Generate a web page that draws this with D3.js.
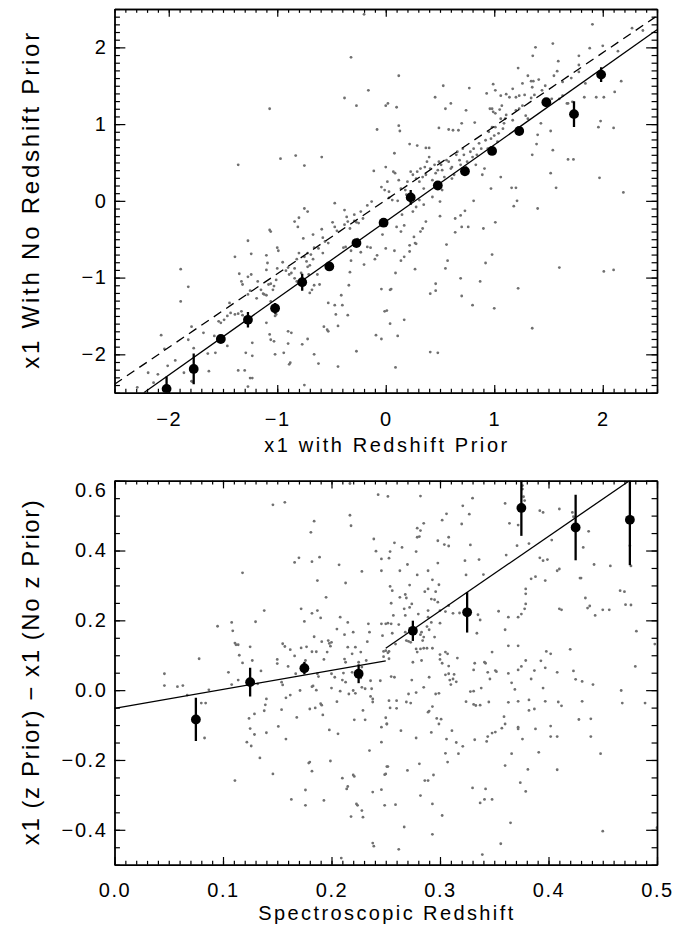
<!DOCTYPE html>
<html>
<head>
<meta charset="utf-8">
<script src="https://cdn.jsdelivr.net/npm/d3@7"></script>
<style>
body { margin:0; background:#fff; }
svg { display:block; font-family:"Liberation Sans", Arial, Helvetica, sans-serif; }
.axis path { stroke:#000; stroke-width:1.4; }
.axis line { stroke:#000; stroke-width:1.2; }
.axis text { font-size:20px; fill:#000; letter-spacing:1.6px; }
.title { font-size:20px; fill:#000; }
.ytitle { font-size:24px; fill:#000; }
</style>
</head>
<body>
<div class="chart"></div>
<script>
// ---- top panel: x1 with / without redshift prior ----
var topBinX   = [-2.02, -1.77, -1.52, -1.27, -1.02, -0.77, -0.52, -0.27, -0.02, 0.23, 0.48, 0.73, 0.98, 1.23, 1.48, 1.735, 1.985];
var topBinY   = [-2.45, -2.19, -1.80, -1.55, -1.40, -1.06, -0.855, -0.55, -0.285, 0.045, 0.20, 0.385, 0.65, 0.91, 1.285, 1.13, 1.645];
var topBinErr = [0.16, 0.20, 0.04, 0.10, 0.07, 0.11, 0.04, 0.04, 0.04, 0.097, 0.04, 0.04, 0.04, 0.04, 0.04, 0.167, 0.097];
var topFitLine  = [[-2.23, -2.5], [2.5, 2.23]];
var topOneToOne = [[-2.5, -2.39], [2.5, 2.41]];
var topDots = [
 [-0.20,2.43],[-0.32,1.87],[-0.16,1.44],[-0.38,1.34],[-0.27,1.24],[-1.07,1.20],[-0.08,0.93],
 [-0.83,0.59],[-0.59,0.57],[-0.97,0.55],[-0.75,0.46],[-1.36,0.47],[-0.11,0.39],[-0.04,0.18],[-0.01,0.14],
 [-0.75,-0.10],[-0.72,-0.14],[-0.47,-0.03],[-0.80,-0.22],[-0.84,-0.27],[-0.81,-0.34],[-0.76,-0.49],
 [-1.07,-0.38],[-1.06,-0.40],[-1.27,-0.52],[-1.24,-0.69],[-1.39,-0.73],[-1.00,-0.61],[-0.99,-0.65],[-1.10,-0.71],
 [-1.89,-0.89],[-1.82,-1.12],[-1.89,-1.31],[-2.07,-1.75],[-2.04,-1.93],[-1.79,-1.64],[-1.82,-1.81],[-1.77,-1.92],
 [-2.01,-2.15],[-1.94,-2.08],[-1.86,-2.24],[-1.79,-2.35],[-1.78,-2.36],[-1.68,-1.72],[-2.10,-2.26],[-2.14,-2.37],[-2.29,-2.43],[-2.19,-2.24],
 [-1.63,-2.22],[-1.57,-1.98],[-1.64,-1.99],[-1.58,-1.76],
 [-1.44,-1.33],[-1.54,-1.57],[-1.52,-1.59],[-1.49,-1.55],[-1.46,-1.50],[-1.43,-1.46],[-1.39,-1.48],[-1.36,-1.47],[-1.33,-1.44],[-1.32,-1.49],
 [-1.46,-1.89],[-1.29,-1.98],[-1.23,-1.85],[-1.23,-2.02],[-1.36,-2.21],[-1.30,-2.21],[-1.25,-2.31],[-1.23,-2.31],[-1.27,-2.42],
 [-1.33,-1.05],[-1.32,-1.09],[-1.35,-0.95],[-1.27,-1.22],[-1.25,-1.17],[-1.27,-0.99],[-1.24,-0.96],
 [-1.18,-1.05],[-1.19,-1.27],[-1.15,-1.16],[-1.13,-1.21],[-1.12,-1.22],[-1.10,-1.23],
 [-1.09,-0.81],[-1.10,-0.90],[-1.08,-1.09],[-1.06,-1.08],[-1.04,-1.16],[-1.01,-1.03],[-1.03,-1.11],
 [-1.06,-1.31],[-1.01,-1.48],[-1.02,-1.50],[-1.10,-1.59],[-1.07,-1.74],[-1.06,-1.81],[-1.03,-1.83],
 [-0.90,-1.70],[-0.87,-1.72],[-1.02,-2.00],[-0.94,-1.98],[-0.90,-1.86],[-0.89,-2.13],[-0.88,-2.11],
 [-0.77,-1.87],[-0.75,-2.40],[-0.72,-1.80],[-0.66,-2.00],[-0.62,-2.12],[-0.57,-1.64],[-0.54,-1.68],[-0.53,-1.70],
 [-0.53,-1.33],[-0.47,-1.36],[-0.46,-1.48],[-0.44,-1.63],[-0.44,-2.16],[-0.41,-1.23],[-0.40,-1.36],[-0.35,-1.49],
 [-0.34,-1.10],[-0.33,-0.93],[-0.27,-1.96],[-0.09,-1.75],[-0.04,-1.80],[-0.01,-1.44],[-0.04,-1.15],
 [-0.03,-0.44],[0.00,-0.62],[-0.10,-0.76],[-0.08,-0.71],[-0.20,-0.83],[-0.17,-0.60],[-0.14,-0.61],
 [-0.32,-0.65],[-0.32,-0.78],[-0.23,-0.67],[-0.39,-0.61],[-0.37,-0.60],[-0.29,-0.53],[-0.26,-0.50],
 [-0.38,-0.31],[-0.35,-0.27],[-0.33,-0.36],[-0.29,-0.18],[-0.23,-0.14],[-0.21,-0.23],[-0.17,-0.06],[-0.13,-0.01],
 [-0.29,-0.26],[-0.27,-0.28],[-0.25,-0.29],[-0.49,-0.28],[-0.47,-0.34],[-0.45,-0.39],[-0.38,-0.12],[-0.36,-0.21],
 [-0.59,-0.37],[-0.58,-0.48],[-0.56,-0.53],[-0.53,-0.55],[-0.62,-0.62],[-0.58,-0.68],
 [-0.67,-0.44],[-0.66,-0.61],[-0.72,-0.68],[-0.70,-0.84],[-0.69,-0.70],[-0.67,-0.76],
 [-0.75,-0.73],[-0.73,-0.79],[-0.72,-0.86],[-0.71,-0.96],[-0.78,-0.94],[-0.82,-0.76],[-0.80,-0.68],[-0.84,-0.88],
 [-0.90,-0.87],[-0.92,-0.91],[-0.89,-0.96],[-0.87,-0.94],[-0.84,-1.01],[-0.82,-1.05],
 [-0.68,-1.16],[-0.70,-1.20],[-0.66,-1.10],[-0.63,-0.96],[-0.61,-1.09],[-0.95,-0.80],[-1.00,-0.88],
 [1.905,2.30],[2.37,2.22],[2.27,2.25],[1.54,2.05],[1.38,2.00],[1.88,1.99],[2.00,2.02],[1.78,1.89],[2.14,1.95],[1.355,1.89],
 [1.59,1.82],[1.22,1.73],[1.31,1.63],[1.34,1.56],[1.36,1.56],[1.41,1.58],[1.55,1.63],[1.58,1.69],[1.63,1.55],[1.71,1.60],
 [1.78,1.77],[1.78,1.68],[1.84,1.53],[2.01,1.35],[2.17,1.56],[2.11,1.42],[1.94,1.35],[1.83,1.35],[1.72,1.29],[1.68,1.27],
 [1.63,1.37],[1.60,1.33],[1.53,1.33],[1.44,1.44],[1.47,1.50],[1.35,1.48],[1.37,1.38],[1.34,1.34],[1.26,1.53],[1.28,1.38],
 [1.20,1.35],[1.23,1.37],[1.17,1.46],[1.11,1.39],[1.14,1.35],[1.06,1.37],[1.07,1.24],[0.99,1.52],[1.01,1.44],[0.93,1.40],
 [0.98,1.20],[0.99,1.16],[1.01,1.14],[1.05,1.19],[1.11,1.12],[1.10,1.07],[1.17,1.05],[1.20,1.18],[1.23,1.20],[1.26,1.24],
 [1.29,1.11],[1.31,1.07],[1.43,1.01],[1.40,0.86],[1.39,0.74],[1.35,0.60],[1.54,0.66],[1.52,0.91],[1.52,0.36],[1.57,0.17],
 [1.68,0.54],[1.73,0.54],[1.67,1.27],[1.96,0.96],[1.98,1.04],[2.10,0.95],[1.97,0.30],[2.19,0.11],[2.01,-0.92],[2.10,-0.90],
 [1.60,-0.87],[1.35,-1.66],[1.40,-0.10],[1.18,-0.07],[1.21,0.00],[1.16,0.17],[1.20,0.17],[1.22,-1.14],[1.00,-1.40],[0.98,-0.70],
 [1.01,-0.28],[1.06,0.31],[0.97,0.16],[0.90,-0.36],[0.92,-0.81],[0.87,-1.05],[0.80,-1.36],[0.70,-1.24],[0.69,-1.01],[0.70,-0.34],
 [0.76,-0.34],[0.81,0.00],[0.73,-0.13],[0.69,-0.19],[0.64,-0.23],[0.64,-0.41],[0.55,-0.88],[0.56,-0.57],[0.57,-0.78],[0.50,-0.01],
 [0.50,-0.20],[0.46,-1.08],[0.46,-1.17],[0.48,-1.98],[0.41,-1.97],[0.41,-1.21],[0.37,-0.27],[0.34,-0.36],[0.32,-0.40],[0.27,-0.55],
 [0.28,-0.56],[0.26,-0.47],[0.22,-0.58],[0.22,-0.66],[0.27,-0.89],[0.17,-0.73],[0.14,-0.78],[0.09,-0.94],[0.08,-0.65],[0.05,-1.15],
 [0.04,-1.16],[0.17,-1.55],[0.04,-1.60],[0.11,-1.76],[0.09,-2.17],[0.01,-1.43],[0.14,-0.40],[0.17,-0.32],[0.15,-0.18],[0.10,-0.34],
 [0.00,0.44],[0.015,0.25],[0.03,0.12],[0.07,0.38],[0.086,0.36],[0.12,0.27],[0.14,0.16],[0.18,0.14],[0.20,0.25],[0.23,0.38],
 [0.25,0.34],[0.28,0.29],[0.29,0.38],[0.31,0.25],[0.32,0.42],[0.34,0.31],[0.35,0.16],[0.36,0.44],[0.37,0.34],[0.38,0.51],
 [0.40,0.57],[0.41,0.42],[0.43,0.27],[0.45,0.47],[0.46,0.36],[0.48,0.40],[0.49,0.51],[0.51,0.47],[0.52,0.40],[0.54,0.31],
 [0.56,0.53],[0.58,0.51],[0.60,0.42],[0.61,0.44],[0.63,0.34],[0.65,0.60],[0.66,0.64],[0.68,0.53],[0.69,0.47],[0.71,0.68],
 [0.72,0.60],[0.74,0.44],[0.75,0.51],[0.78,0.64],[0.80,0.57],[0.81,0.68],[0.83,0.47],[0.84,0.60],[0.86,0.75],[0.88,0.68],
 [0.89,0.34],[0.91,0.42],[0.92,0.79],[0.94,0.68],[0.95,0.90],[0.97,0.81],[0.98,0.96],[1.00,0.85],[1.01,0.96],[1.03,0.77],
 [1.04,0.88],[1.06,1.07],[1.08,0.94],[1.09,1.01],
 [0.12,1.63],[0.00,1.24],[0.02,1.27],[0.10,1.22],[0.12,0.98],[0.13,0.91],[0.22,0.74],[0.29,0.72],[0.37,0.69],[0.40,0.69],
 [0.455,1.35],[0.53,1.50],[0.55,1.20],[0.60,1.27],[0.49,0.95],[0.58,0.93],[0.62,0.92],[0.67,0.92],[0.70,1.01],[0.74,1.18],
 [0.77,1.47],[0.82,1.02],[0.96,1.20],[0.08,0.62],[0.03,0.04],[0.06,0.01],[0.11,0.00],[0.19,0.08],[0.35,-0.05],[0.31,0.01],
 [0.28,-0.08],[0.25,-0.14],[0.43,0.05],[0.48,0.16],[0.52,0.14],[0.61,0.29]
];

// ---- bottom panel: difference against spectroscopic redshift ----
var botBinX   = [0.075, 0.125, 0.175, 0.225, 0.275, 0.325, 0.375, 0.425, 0.475];
var botBinY   = [-0.084, 0.023, 0.063, 0.047, 0.170, 0.223, 0.522, 0.466, 0.488];
var botBinErr = [0.062, 0.041, 0.018, 0.027, 0.029, 0.058, 0.08, 0.094, 0.13];
var botFitLow  = [[0.0, -0.052], [0.25, 0.084]];
var botFitHigh = [[0.25, 0.12], [0.4746, 0.6]];
var botDots = [
 [0.046,0.047],[0.046,0.013],[0.058,0.010],[0.063,0.013],[0.067,-0.014],[0.078,0.090],[0.080,-0.037],[0.084,-0.037],[0.083,-0.137],[0.087,0.001],
 [0.095,0.183],[0.105,0.051],[0.108,0.016],[0.108,0.194],[0.109,0.170],[0.111,0.135],[0.112,0.130],[0.114,0.130],[0.115,0.100],[0.118,0.336],
 [0.118,0.078],[0.114,0.029],[0.111,-0.259],[0.122,-0.149],[0.124,-0.081],[0.125,-0.110],[0.126,-0.160],[0.125,0.124],[0.127,0.085],[0.129,-0.068],
 [0.129,-0.127],[0.130,0.196],[0.132,0.018],[0.134,-0.194],[0.135,0.055],[0.138,0.228],[0.138,-0.059],[0.139,-0.042],[0.140,-0.025],[0.140,-0.122],
 [0.146,0.531],[0.146,-0.240],[0.150,0.076],[0.150,0.088],[0.151,-0.104],[0.154,0.023],[0.155,0.015],[0.154,-0.056],[0.155,0.133],[0.157,0.125],
 [0.157,0.538],[0.158,-0.022],[0.158,-0.140],[0.160,0.068],[0.162,0.116],[0.162,-0.014],[0.163,-0.313],[0.166,0.098],[0.167,0.047],[0.168,-0.078],
 [0.166,0.366],[0.170,0.379],[0.171,-0.001],[0.172,0.233],[0.172,0.121],[0.177,0.124],[0.175,0.197],[0.176,0.085],[0.176,0.056],[0.176,-0.286],
 [0.176,-0.330],[0.179,-0.209],[0.180,-0.206],[0.180,-0.054],[0.181,0.452],[0.182,0.010],[0.183,0.012],[0.182,0.110],[0.186,0.110],[0.182,-0.232],
 [0.182,0.368],[0.182,0.220],[0.184,0.484],[0.184,0.153],[0.185,-0.051],[0.186,0.000],[0.187,0.314],[0.187,0.047],[0.187,0.228],[0.188,0.039],
 [0.189,0.381],[0.190,0.207],[0.190,-0.039],[0.191,-0.043],[0.191,0.139],[0.192,-0.071],[0.193,0.088],[0.193,-0.316],[0.195,0.266],[0.196,0.109],
 [0.197,0.142],[0.198,0.134],[0.199,0.126],[0.200,0.137],[0.198,-0.114],[0.199,-0.203],[0.200,0.047],[0.200,0.006],[0.203,0.037],[0.205,0.175],
 [0.205,-0.033],[0.206,-0.125],[0.207,0.359],[0.208,0.209],[0.208,-0.003],[0.209,-0.481],[0.210,-0.252],[0.210,0.029],[0.211,0.049],[0.212,0.159],
 [0.212,0.089],[0.213,0.080],[0.213,0.023],[0.213,0.307],[0.214,-0.283],[0.215,-0.276],[0.215,0.194],[0.215,0.123],[0.216,-0.011],[0.217,0.501],
 [0.218,0.471],[0.218,-0.362],[0.219,0.104],[0.219,0.051],[0.220,-0.001],[0.220,-0.243],[0.221,-0.247],[0.220,0.166],[0.221,-0.085],[0.222,0.123],
 [0.222,-0.009],[0.223,-0.326],[0.224,-0.330],[0.225,0.080],[0.227,0.109],[0.227,0.035],[0.228,0.066],[0.228,0.340],[0.228,0.008],[0.228,-0.345],
 [0.229,-0.364],[0.231,-0.085],[0.229,-0.058],[0.231,0.004],[0.232,0.085],[0.233,0.139],[0.234,0.190],[0.235,-0.173],[0.235,0.166],[0.236,0.027],
 [0.236,-0.018],[0.237,0.004],[0.238,-0.025],[0.238,-0.292],[0.238,-0.034],[0.238,-0.438],[0.239,-0.447],[0.239,0.433],[0.241,0.398],[0.243,0.560],
 [0.245,0.027],[0.246,-0.106],[0.246,-0.149],[0.246,0.342],[0.246,0.376],[0.247,0.156],[0.248,0.111],[0.248,0.096],[0.246,0.190],[0.246,-0.285],
 [0.249,-0.330],[0.250,0.190],[0.249,-0.242],[0.251,-0.097],[0.251,-0.219],[0.217,0.592],
 [0.252,0.555],[0.282,0.556],[0.330,0.550],[0.360,0.535],[0.321,0.528],[0.327,0.504],[0.306,0.505],[0.302,0.487],[0.285,0.478],[0.320,0.476],
 [0.279,0.464],[0.282,0.457],[0.281,0.440],[0.279,0.438],[0.298,0.428],[0.258,0.422],[0.304,0.417],[0.308,0.413],[0.308,0.438],[0.265,0.409],
 [0.328,0.416],[0.254,0.397],[0.278,0.397],[0.253,0.378],[0.336,0.374],[0.323,0.371],[0.298,0.364],[0.270,0.360],[0.263,0.342],[0.289,0.342],
 [0.324,0.330],[0.279,0.330],[0.340,0.331],[0.293,0.316],[0.272,0.301],[0.254,0.297],[0.299,0.302],[0.256,0.285],[0.289,0.290],[0.286,0.282],
 [0.296,0.282],[0.268,0.274],[0.269,0.264],[0.263,0.266],[0.274,0.247],[0.255,0.249],[0.292,0.261],[0.295,0.259],[0.298,0.252],[0.289,0.228],
 [0.300,0.228],[0.305,0.225],[0.308,0.242],[0.312,0.220],[0.272,0.237],[0.267,0.233],[0.268,0.214],[0.257,0.214],[0.280,0.218],[0.252,0.192],
 [0.255,0.190],[0.262,0.188],[0.256,0.163],[0.268,0.166],[0.269,0.142],[0.318,0.221],[0.335,0.216],[0.337,0.201],[0.334,0.163],[0.289,0.209],
 [0.292,0.194],[0.300,0.192],[0.288,0.182],[0.282,0.159],[0.283,0.166],[0.290,0.173],[0.285,0.152],[0.295,0.152],[0.284,0.142],[0.278,0.118],
 [0.279,0.109],[0.282,0.118],[0.285,0.120],[0.288,0.120],[0.293,0.120],[0.273,0.137],[0.271,0.140],[0.259,0.132],[0.253,0.111],[0.252,0.107],
 [0.253,0.090],[0.250,0.113],[0.275,0.080],[0.283,0.085],[0.300,0.102],[0.300,0.088],[0.302,0.077],[0.305,0.109],[0.307,0.104],[0.308,0.069],
 [0.308,0.047],[0.316,0.092],[0.255,0.039],[0.258,0.037],[0.274,0.029],[0.278,-0.007],[0.271,-0.011],[0.273,-0.037],[0.269,-0.034],[0.253,-0.030],
 [0.260,-0.030],[0.254,-0.051],[0.260,-0.052],[0.290,0.037],[0.285,0.008],[0.296,-0.011],[0.299,-0.009],[0.305,0.044],[0.309,0.029],[0.312,0.032],
 [0.313,0.045],[0.315,0.024],[0.310,0.016],[0.332,0.077],[0.331,0.058],[0.341,0.080],[0.342,0.077],[0.344,0.051],[0.346,0.032],[0.351,0.056],
 [0.352,0.053],[0.348,0.109],[0.363,0.048],[0.366,0.021],[0.369,0.002],[0.372,0.058],[0.375,0.068],[0.379,0.085],[0.384,0.032],[0.387,0.056],
 [0.393,0.084],[0.397,0.064],[0.398,0.111],[0.402,0.104],[0.408,0.051],[0.395,0.006],[0.420,0.117],[0.423,0.055],[0.425,0.031],[0.431,0.025],
 [0.441,0.016],[0.467,-0.001],[0.468,-0.037],[0.489,-0.037],[0.480,0.068],[0.498,0.132],[0.481,0.169],[0.476,0.244],[0.471,0.245],[0.470,0.282],
 [0.466,0.285],[0.450,0.230],[0.456,0.230],[0.443,0.214],[0.436,0.235],[0.434,0.264],[0.438,0.241],[0.430,0.321],
 [0.376,0.586],[0.376,0.576],[0.377,0.554],[0.378,0.543],[0.372,0.473],[0.364,0.478],[0.371,0.414],[0.382,0.420],[0.392,0.514],[0.395,0.509],
 [0.410,0.519],[0.422,0.509],[0.423,0.497],[0.437,0.455],[0.432,0.409],[0.403,0.430],[0.392,0.379],[0.395,0.371],[0.399,0.374],[0.384,0.319],
 [0.388,0.325],[0.397,0.314],[0.408,0.342],[0.410,0.347],[0.429,0.321],[0.442,0.360],[0.457,0.356],[0.379,0.290],[0.379,0.276],[0.379,0.247],
 [0.378,0.233],[0.372,0.209],[0.375,0.218],[0.361,0.387],[0.410,0.233],[0.412,0.230],[0.354,0.226],[0.360,0.173],[0.363,0.209],[0.363,0.127],
 [0.372,0.127],[0.475,0.414],[0.476,0.356],
 [0.250,-0.079],[0.251,-0.097],[0.264,-0.116],[0.278,-0.137],[0.290,-0.060],[0.289,-0.063],[0.293,-0.047],[0.297,-0.081],[0.301,-0.083],[0.299,-0.097],
 [0.292,-0.121],[0.306,-0.140],[0.311,-0.116],[0.315,-0.150],[0.317,-0.182],[0.321,-0.161],[0.305,-0.181],[0.307,-0.206],[0.281,-0.211],[0.286,-0.259],
 [0.289,-0.259],[0.294,-0.243],[0.282,-0.302],[0.293,-0.326],[0.302,-0.359],[0.293,-0.413],[0.259,-0.328],[0.267,-0.392],[0.262,-0.456],[0.252,-0.219],
 [0.250,-0.240],[0.270,-0.230],[0.324,-0.033],[0.331,-0.041],[0.333,-0.044],[0.337,-0.043],[0.332,-0.142],[0.344,-0.133],[0.343,-0.147],[0.348,-0.123],
 [0.351,-0.120],[0.357,-0.109],[0.359,-0.076],[0.360,-0.097],[0.363,-0.035],[0.372,-0.032],[0.372,-0.106],[0.372,-0.111],[0.376,-0.140],[0.382,-0.028],
 [0.382,-0.058],[0.387,-0.054],[0.388,-0.111],[0.397,-0.032],[0.402,-0.103],[0.402,-0.133],[0.408,-0.133],[0.409,-0.034],[0.412,-0.045],[0.428,-0.084],
 [0.439,-0.082],[0.439,-0.133],[0.431,-0.032],[0.448,-0.182],[0.450,-0.404],[0.366,-0.182],[0.360,-0.216],[0.381,-0.227],[0.408,-0.228],[0.391,-0.178],
 [0.374,-0.265],[0.379,-0.290],[0.330,-0.280],[0.337,-0.323],[0.342,-0.283],[0.341,-0.313],[0.348,-0.313],[0.365,-0.380],[0.356,-0.440],[0.339,-0.471],
 [0.500,-0.394],[0.328,-0.004],[0.331,-0.003],[0.338,0.006],[0.345,-0.034]
];

// ---- axes ----
var topXMajor = [-2, -1, 0, 1, 2];
var topXMinor = d3.range(-25, 26).map(function(i){ return i / 10; });
var topYMajor = [-2, -1, 0, 1, 2];
var topYMinor = topXMinor;
var botXMajor = [0, 0.1, 0.2, 0.3, 0.4, 0.5];
var botXMinor = d3.range(0, 51).map(function(i){ return i / 100; });
var botYMajor = [-0.4, -0.2, 0, 0.2, 0.4, 0.6];
var botYMinor = d3.range(-10, 13).map(function(i){ return i * 0.05; });

var svgWidth = 699, svgHeight = 933;
var left = 114.5, plotW = 542.5;

var svg = d3.select(".chart").append("svg")
    .attr("width", svgWidth)
    .attr("height", svgHeight);

function drawPanel(opt){
    var x = d3.scaleLinear().domain(opt.xDomain).range([0, plotW]);
    var y = d3.scaleLinear().domain(opt.yDomain).range([opt.height, 0]);
    var xTick = 0.02 * opt.height, yTick = 0.02 * plotW;

    var g = svg.append("g").attr("transform", "translate(" + left + "," + opt.top + ")");

    g.append("clipPath").attr("id", opt.id)
        .append("rect").attr("width", plotW).attr("height", opt.height);

    var plot = g.append("g").attr("clip-path", "url(#" + opt.id + ")");

    plot.selectAll("circle.dot")
        .data(opt.dots)
        .enter().append("circle")
        .attr("class", "dot")
        .attr("cx", function(d){ return x(d[0]); })
        .attr("cy", function(d){ return y(d[1]); })
        .attr("r", 1.4)
        .attr("fill", "#707070");

    var line = d3.line().x(function(d){ return x(d[0]); }).y(function(d){ return y(d[1]); });
    opt.lines.forEach(function(l){
        plot.append("path")
            .attr("d", line(l.pts))
            .attr("fill", "none")
            .attr("stroke", "#000")
            .attr("stroke-width", 1.3)
            .attr("stroke-dasharray", l.dash || null);
    });

    opt.binX.forEach(function(bx, i){
        plot.append("line")
            .attr("x1", x(bx)).attr("x2", x(bx))
            .attr("y1", y(opt.binY[i] - opt.binErr[i]))
            .attr("y2", y(opt.binY[i] + opt.binErr[i]))
            .attr("stroke", "#000").attr("stroke-width", 2.3);
        plot.append("circle")
            .attr("cx", x(bx)).attr("cy", y(opt.binY[i]))
            .attr("r", 4.9).attr("fill", "#000");
    });

    // IDL style box: ticks inward on all four sides
    function addAxis(axis, tr, withLabels){
        var a = g.append("g").attr("class", "axis").attr("transform", tr).call(axis);
        a.attr("font-size", null).attr("font-family", null);
        if (!withLabels) a.selectAll("text").remove();
        return a;
    }
    addAxis(d3.axisBottom(x).tickValues(opt.xMinor).tickSize(-xTick / 2).tickSizeOuter(0).tickFormat(""), "translate(0," + opt.height + ")", false);
    addAxis(d3.axisTop(x).tickValues(opt.xMinor).tickSize(-xTick / 2).tickSizeOuter(0).tickFormat(""), "translate(0,0)", false);
    addAxis(d3.axisLeft(y).tickValues(opt.yMinor).tickSize(-yTick / 2).tickSizeOuter(0).tickFormat(""), "translate(0,0)", false);
    addAxis(d3.axisRight(y).tickValues(opt.yMinor).tickSize(-yTick / 2).tickSizeOuter(0).tickFormat(""), "translate(" + plotW + ",0)", false);

    addAxis(d3.axisBottom(x).tickValues(opt.xMajor).tickSize(-xTick).tickSizeOuter(0).tickPadding(opt.xPad).tickFormat(opt.xFmt), "translate(0," + opt.height + ")", true);
    addAxis(d3.axisTop(x).tickValues(opt.xMajor).tickSize(-xTick).tickSizeOuter(0).tickFormat(""), "translate(0,0)", false);
    var ya = addAxis(d3.axisLeft(y).tickValues(opt.yMajor).tickSize(-yTick).tickSizeOuter(0).tickPadding(7).tickFormat(opt.yFmt), "translate(0,0)", true);
    addAxis(d3.axisRight(y).tickValues(opt.yMajor).tickSize(-yTick).tickSizeOuter(0).tickFormat(""), "translate(" + plotW + ",0)", false);

    // top label is pushed inside the box like IDL does
    ya.selectAll(".tick text").filter(function(d){ return y(d) < 10; }).attr("y", 9);

    g.append("text").attr("class", "title")
        .attr("x", plotW / 2).attr("y", opt.height + opt.xTitleY)
        .attr("text-anchor", "middle")
        .attr("textLength", opt.xTitleLen).attr("lengthAdjust", "spacing")
        .text(opt.xTitle);

    g.append("text").attr("class", "ytitle")
        .attr("transform", "translate(" + (38.5 - left) + "," + (opt.height / 2) + ") rotate(-90)")
        .attr("text-anchor", "middle")
        .attr("textLength", opt.yTitleLen).attr("lengthAdjust", "spacing")
        .text(opt.yTitle);
}

drawPanel({
    id: "clipTop", top: 9, height: 383.7,
    xDomain: [-2.5, 2.5], yDomain: [-2.5, 2.5],
    dots: topDots, binX: topBinX, binY: topBinY, binErr: topBinErr,
    lines: [{pts: topFitLine}, {pts: topOneToOne, dash: "9,6"}],
    xMajor: topXMajor, xMinor: topXMinor, yMajor: topYMajor, yMinor: topYMinor,
    xFmt: d3.format("d"), yFmt: d3.format("d"), xPad: 19,
    xTitle: "x1 with Redshift Prior", xTitleY: 59.5, xTitleLen: 243,
    yTitle: "x1 With No Redshift Prior", yTitleLen: 336
});

drawPanel({
    id: "clipBot", top: 480.7, height: 384,
    xDomain: [0, 0.5], yDomain: [-0.5, 0.6],
    dots: botDots, binX: botBinX, binY: botBinY, binErr: botBinErr,
    lines: [{pts: botFitLow}, {pts: botFitHigh}],
    xMajor: botXMajor, xMinor: botXMinor, yMajor: botYMajor, yMinor: botYMinor,
    xFmt: d3.format(".1f"), yFmt: d3.format(".1f"), xPad: 18,
    xTitle: "Spectroscopic Redshift", xTitleY: 55.5, xTitleLen: 255,
    yTitle: "x1 (z Prior) \u2212 x1 (No z Prior)", yTitleLen: 345
});
</script>
</body>
</html>
